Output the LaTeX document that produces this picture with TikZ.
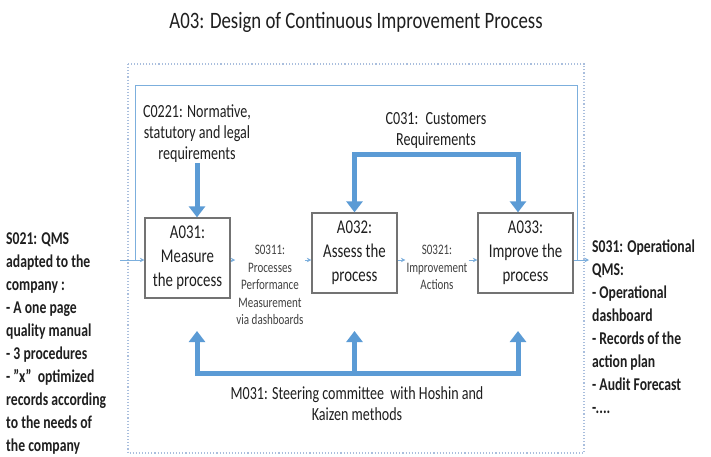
\documentclass[tikz,border=0pt]{standalone}
\usepackage{fontspec}
\setmainfont{Carlito}[FakeStretch=0.76]
\newfontfamily\titlefont{Carlito}[FakeStretch=0.8]
\usetikzlibrary{arrows.meta}
\definecolor{thickc}{HTML}{5B9BD5}
\definecolor{thinc}{HTML}{5B9BD5}
\definecolor{dotc}{HTML}{A9BEDD}
\definecolor{boxc}{HTML}{737373}
\definecolor{txt}{HTML}{1F1F1F}
\begin{document}
\begin{tikzpicture}[x=1pt,y=-1pt,
  proc/.style={draw=boxc, line width=1.3pt, fill=white, minimum height=80pt,
    align=center, font=\fontsize{19.5}{24}\selectfont, text=txt, inner sep=0pt},
  lab/.style={align=center, font=\fontsize{14.5}{17.5}\selectfont, text=txt!85, inner sep=1pt, fill=white},
  clab/.style={align=center, font=\fontsize{18.5}{21}\selectfont, text=txt, inner sep=0pt},
  side/.style={align=left, font=\bfseries\fontsize{18}{23}\selectfont, text=txt, inner sep=0pt},
  big/.style={draw=thickc, line width=5pt, line join=miter},
  bigtip/.style={-{Triangle[width=16pt,length=11pt]}},
  thinline/.style={draw=thinc!80, line width=1pt},
  thinarrow/.style={thinline, -{Stealth[length=4.5pt,width=4.5pt]}}
]
\useasboundingbox (0,0) rectangle (711,456);
\clip (0,0) rectangle (711,456);
\fill[white] (0,0) rectangle (711,456);

\node[font=\titlefont\fontsize{23.5}{27}\selectfont, text=txt] (title) at (356,22)
  {A03: Design of Continuous Improvement Process};

\draw[dotc, dotted, line width=1.1pt] (128,64) rectangle (584,453);

% coordinates
\coordinate (x1) at (197,0);
\coordinate (x3) at (518,0);
\coordinate (ry) at (0,260);
\coordinate (topy) at (0,85);
\coordinate (cb) at (0,154);
\coordinate (mb) at (0,373);
\coordinate (mt) at (0,331);
\coordinate (in) at (120,260);
\coordinate (out) at (589,260);
\coordinate (fbR) at (577,260);
\coordinate (fbL) at (135,260);

% feedback thin loop
\draw[thinline] (fbR) -- (fbR |- topy) -- (fbL |- topy) -- (fbL);

% boxes
\node[proc, minimum width=85pt] (a1) at (187.5,258) {A031:\\Measure\\the process};
\node[proc, minimum width=85pt] (a2) at (354.5,253) {A032:\\Assess the\\process};
\node[proc, minimum width=95pt] (a3) at (525.5,253) {A033:\\Improve the\\process};

% output labels
\node[lab, anchor=north] (s1) at (270,244) {S0311:\\Processes\\Performance\\Measurement\\via dashboards};
\node[lab, anchor=north] (s2) at (437,244) {S0321:\\Improvement\\Actions};

\draw[thinarrow] (in) -- (a1.west |- in);
\draw[thinarrow] (a1.east |- ry) -- (s1.west |- ry);
\draw[thinarrow] (s1.east |- ry) -- (a2.west |- ry);
\draw[thinarrow] (a2.east |- ry) -- (s2.west |- ry);
\draw[thinarrow] (s2.east |- ry) -- (a3.west |- ry);
\draw[thinarrow] (a3.east |- out) -- (out);

% controls
\node[clab, anchor=north] (c1) at (197,105) {C0221: Normative,\\statutory and legal\\requirements};
\draw[big, bigtip] (c1.south) -- (c1.south |- a1.north);

\node[clab, anchor=north] (c2) at (436,112) {C031:~ Customers\\Requirements};
\draw[big, {Triangle[width=16pt,length=11pt]}-{Triangle[width=16pt,length=11pt]}]
  (a2.north) -- (a2.north |- cb) -- (x3 |- cb) -- (x3 |- a3.north);

% mechanisms
\node[clab, anchor=north] (m) at (357,386) {M031: Steering committee~ with Hoshin and\\Kaizen methods};
\draw[big, {Triangle[width=16pt,length=11pt]}-{Triangle[width=16pt,length=11pt]}]
  (x1 |- mt) -- (x1 |- mb) -- (x3 |- mb) -- (x3 |- mt);
\draw[big, bigtip] (a2.south |- mb) -- (a2.south |- mt);

% side texts
\node[side, anchor=north west] (s021) at (6,232) {S021: QMS\\adapted to the\\company :\\- A one page\\quality manual\\- 3 procedures\\- "x"~ optimized\\records according\\to the needs of\\the company};
\node[side, anchor=north west] (s031) at (592,240) {S031: Operational\\QMS:\\- Operational\\dashboard\\- Records of the\\action plan\\- Audit Forecast\\-....};
\end{tikzpicture}
\end{document}
